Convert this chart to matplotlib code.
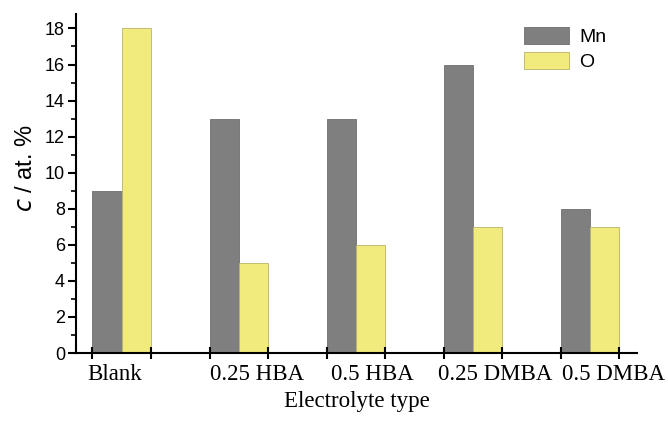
import matplotlib

matplotlib.use("Agg")
import matplotlib.pyplot as plt
import numpy as np
from matplotlib.ticker import MultipleLocator

categories = ["Blank", "0.25 HBA", "0.5 HBA", "0.25 DMBA", "0.5 DMBA"]
mn_values = [9, 13, 13, 16, 8]
o_values = [18, 5, 6, 7, 7]
# label positions are slightly offset from the group centres in the original
label_pos = [-0.06, 1.16, 2.14, 3.19, 4.20]

x = np.arange(len(categories))
w = 0.25

fig = plt.figure(figsize=(6.68, 4.21), dpi=100)
ax = fig.add_axes([0.1138, 0.1615, 0.8398, 0.8052])

ax.bar(x - w / 2, mn_values, w, color="#7f7f7f", edgecolor="#6e6e6e", linewidth=0.6, label="Mn")
ax.bar(x + w / 2, o_values, w, color="#f0eb7c", edgecolor="#b8b46a", linewidth=0.6, label="O")

ax.set_xlim(-0.39, 4.40)
ax.set_ylim(0, 18.8)

for side in ("top", "right"):
    ax.spines[side].set_visible(False)
for side in ("left", "bottom"):
    ax.spines[side].set_linewidth(1.5)

# x: tick marks at the bar-group edges, labels placed separately
edges = np.sort(np.concatenate([x - w, x + w]))
ax.set_xticks(edges, minor=True)
ax.set_xticks(label_pos)
ax.set_xticklabels(categories, family="Liberation Serif", fontsize=16.5)
ax.tick_params(axis="x", which="major", length=0, pad=8)
ax.tick_params(axis="x", which="minor", direction="inout", length=9, width=1.5)

ax.yaxis.set_major_locator(MultipleLocator(2))
ax.yaxis.set_minor_locator(MultipleLocator(1))
ax.tick_params(axis="y", which="major", direction="out", length=6, width=1.5, labelsize=13, pad=2)
ax.tick_params(axis="y", which="minor", direction="out", length=3.5, width=1.2)
for lab in ax.get_yticklabels():
    lab.set_family("Liberation Sans")

ax.set_xlabel("Electrolyte type", family="Liberation Serif", fontsize=16.5, labelpad=4)
ax.set_ylabel(r"$\it{c}$ / at. %", family="Liberation Sans", fontsize=17)
ax.yaxis.set_label_coords(-0.069, 0.546)

leg = ax.legend(loc="upper right", bbox_to_anchor=(0.976, 1.014), frameon=False,
                prop={"family": "Liberation Sans", "size": 14},
                handlelength=2.3, handleheight=1.0, handletextpad=0.5, labelspacing=0.3)

fig.savefig("out.png", dpi=100)
